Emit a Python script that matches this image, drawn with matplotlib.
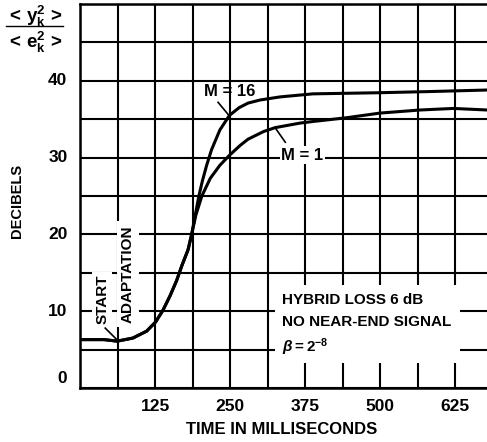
import matplotlib
matplotlib.use("Agg")
import matplotlib.pyplot as plt
from matplotlib.lines import Line2D
from matplotlib.patches import Rectangle
from matplotlib.ticker import MultipleLocator

plt.rcParams['font.family'] = ['Liberation Sans', 'DejaVu Sans']
plt.rcParams['font.weight'] = 'bold'
plt.rcParams['mathtext.fontset'] = 'custom'
plt.rcParams['mathtext.rm'] = 'Liberation Sans:bold'
plt.rcParams['mathtext.bf'] = 'Liberation Sans:bold'
plt.rcParams['mathtext.it'] = 'Liberation Sans:italic'

################################################################################
# data (time in ms, level in dB)

m16_t = [0, 40, 62, 88, 111, 126, 138, 150, 161, 170, 180, 186, 192, 198,
         204, 211, 219, 233, 249, 265, 280, 300, 333, 388, 500, 583, 678]
m16_db = [6.3, 6.3, 6.1, 6.5, 7.4, 8.6, 10.1, 12.0, 14.0, 16.0, 18.0, 20.0,
          22.5, 25.0, 27.0, 29.0, 31.0, 33.6, 35.5, 36.5, 37.1, 37.5, 37.9,
          38.3, 38.45, 38.6, 38.8]

m1_t = [0, 40, 62, 88, 111, 126, 138, 150, 161, 170, 180, 186, 193, 203, 217,
        233, 249, 267, 280, 306, 325, 367, 388, 445, 500, 567, 622, 678]
m1_db = [6.3, 6.3, 6.1, 6.5, 7.4, 8.6, 10.1, 12.0, 14.0, 16.0, 18.0, 20.0,
         22.5, 25.0, 27.3, 29.0, 30.3, 31.6, 32.4, 33.4, 33.9, 34.5, 34.7,
         35.2, 35.8, 36.2, 36.4, 36.2]

x_labels = [125, 250, 375, 500, 625]
y_labels = [10, 20, 30, 40]
box_lines = ["HYBRID LOSS 6 dB", "NO NEAR-END SIGNAL", r"$\beta = \mathrm{2^{-8}}$"]

################################################################################

fig = plt.figure(figsize=(4.87, 4.42), dpi=100)
ax = fig.add_axes([80 / 487, 54 / 442, 407 / 487, 384 / 442])

ax.set_xlim(0, 678)
ax.set_ylim(0, 50)

ax.xaxis.set_major_locator(MultipleLocator(62.5))
ax.yaxis.set_major_locator(MultipleLocator(5))
ax.set_xticklabels([])
ax.set_yticklabels([])
ax.tick_params(length=0)
ax.set_axisbelow(True)
ax.grid(True, color="black", linewidth=1.5)

for side in ["left", "bottom", "top"]:
    ax.spines[side].set_linewidth(1.8)
ax.spines["right"].set_visible(False)

# tick labels
for v in x_labels:
    ax.text(v, -2.35, str(v), ha="center", va="center", fontsize=12.5,
            fontweight="bold", clip_on=False)
for v in y_labels:
    ax.text(-21, v, str(v), ha="right", va="center", fontsize=12.5,
            fontweight="bold", clip_on=False)
ax.text(-21, 1.3, "0", ha="right", va="center", fontsize=12.5,
        fontweight="bold", clip_on=False)

ax.plot(m16_t, m16_db, color="black", linewidth=2.2, zorder=3,
        solid_capstyle="round", solid_joinstyle="round")
ax.plot(m1_t, m1_db, color="black", linewidth=2.2, zorder=3,
        solid_capstyle="round", solid_joinstyle="round")

# curve labels
ax.text(250, 38.6, "M = 16", ha="center", va="center", fontsize=12,
        fontweight="bold", zorder=4)
ax.plot([230, 247], [37.2, 35.6], color="black", linewidth=1.2, zorder=4)
ax.text(370, 30.3, "M = 1", ha="center", va="center", fontsize=12,
        fontweight="bold", zorder=4,
        bbox=dict(fc="white", ec="none", pad=1))
ax.plot([342, 325], [32.0, 33.9], color="black", linewidth=1.2, zorder=4)

# start of adaptation
ax.text(37, 11.5, "START", rotation=90, ha="center", va="center",
        fontsize=11, fontweight="bold", zorder=4,
        bbox=dict(fc="white", ec="none", pad=2))
ax.text(80, 14.8, "ADAPTATION", rotation=90, ha="center", va="center",
        fontsize=11, fontweight="bold", zorder=4,
        bbox=dict(fc="white", ec="none", pad=3))
ax.plot([42, 62], [7.8, 6.25], color="black", linewidth=1.2, zorder=4)

# conditions box
ax.add_patch(Rectangle((325, 3.3), 308, 10.1, facecolor="white",
                       edgecolor="none", zorder=2))
for i, s in enumerate(box_lines):
    ax.text(337, 11.5 - 2.95 * i - (0.3 if i == 2 else 0), s, ha="left",
            va="center", fontsize=11, fontweight="bold", zorder=4)

# axis titles
fig.text(282 / 487, 1 - 430 / 442, "TIME IN MILLISECONDS", ha="center",
         va="center", fontsize=12, fontweight="bold")
fig.text(17 / 487, 1 - 201 / 442, "DECIBELS", rotation=90, ha="center",
         va="center", fontsize=10.5, fontweight="bold")

# ratio label in the corner
fig.text(35 / 487, 1 - 16 / 442, r"$<\,\mathrm{y_k^2}\,>$", ha="center",
         va="center", fontsize=13.5)
fig.text(35 / 487, 1 - 42 / 442, r"$<\,\mathrm{e_k^2}\,>$", ha="center",
         va="center", fontsize=13.5)
fig.add_artist(Line2D([6 / 487, 63 / 487], [1 - 26 / 442, 1 - 26 / 442],
                      color="black", linewidth=1.0))

fig.savefig("out.png", dpi=100)
